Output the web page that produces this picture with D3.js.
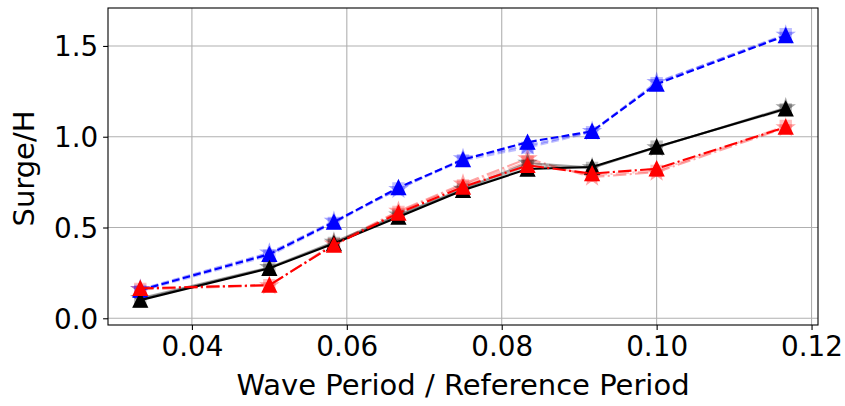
<!DOCTYPE html>
<html>
<head>
<meta charset="utf-8">
<script src="https://cdn.jsdelivr.net/npm/d3@7"></script>
<style>
  html, body { margin: 0; padding: 0; background: #fff; }
  svg { display: block; }
  text { font-family: "DejaVu Sans", sans-serif; fill: #000; }
</style>
</head>
<body>
<svg id="chart" width="845" height="406"></svg>
<script>
// Wave period normalised by the reference period
const periods = [4/120, 6/120, 7/120, 8/120, 9/120, 10/120, 11/120, 12/120, 14/120];

// Surge / H for each configuration
const blueMain  = [0.155, 0.353, 0.530, 0.720, 0.874, 0.970, 1.030, 1.290, 1.557];
const blueAlt1  = [0.160, 0.360, 0.535, 0.710, 0.880, 0.950, 1.030, 1.300, 1.560];
const blueAlt2  = [0.150, 0.345, 0.525, 0.715, 0.870, 0.940, 1.025, 1.295, 1.565];

const blackMain = [0.100, 0.275, 0.412, 0.558, 0.705, 0.822, 0.833, 0.943, 1.154];
const blackAlt1 = [0.110, 0.280, 0.420, 0.570, 0.712, 0.855, 0.830, 0.940, 1.160];
const blackAlt2 = [0.105, 0.278, 0.415, 0.565, 0.708, 0.840, 0.828, 0.945, 1.150];

const redMain   = [0.165, 0.183, 0.403, 0.580, 0.723, 0.842, 0.797, 0.824, 1.053];
const redAlt1   = [0.160, 0.180, 0.410, 0.590, 0.740, 0.880, 0.778, 0.805, 1.050];
const redAlt2   = [0.162, 0.182, 0.408, 0.585, 0.732, 0.862, 0.788, 0.812, 1.060];

const xTicks = [0.04, 0.06, 0.08, 0.10, 0.12];
const yTicks = [0.0, 0.5, 1.0, 1.5];

const xLabel = "Wave Period / Reference Period";
const yLabel = "Surge/H";

const svg = d3.select("#chart");
const plot = { left: 108, right: 818, top: 8, bottom: 325 };

const x = d3.scaleLinear().domain([0.0291667, 0.1208333]).range([plot.left, plot.right]);
const y = d3.scaleLinear().domain([-0.037, 1.709]).range([plot.bottom, plot.top]);

const FONT = 27.8;
const LABEL_FONT = 29;
const TICK = 4.9;

// grid
const grid = svg.append("g").attr("stroke", "#b0b0b0").attr("stroke-width", 1.1);
xTicks.forEach(t => grid.append("line")
  .attr("x1", x(t)).attr("x2", x(t)).attr("y1", plot.top).attr("y2", plot.bottom));
yTicks.forEach(t => grid.append("line")
  .attr("x1", plot.left).attr("x2", plot.right).attr("y1", y(t)).attr("y2", y(t)));

// axes with outward ticks
const xAxis = d3.axisBottom(x).tickValues(xTicks).tickFormat(d3.format(".2f"))
  .tickSize(TICK).tickPadding(4.9);
const yAxis = d3.axisLeft(y).tickValues(yTicks).tickFormat(d3.format(".1f"))
  .tickSize(TICK).tickPadding(4.9);

const gx = svg.append("g").attr("transform", `translate(0,${plot.bottom})`).call(xAxis);
const gy = svg.append("g").attr("transform", `translate(${plot.left},0)`).call(yAxis);
[gx, gy].forEach(g => {
  g.select(".domain").remove();
  g.selectAll(".tick line").attr("stroke", "#000").attr("stroke-width", 1.1);
  g.selectAll(".tick text").attr("font-size", FONT).attr("font-family", "DejaVu Sans").attr("fill", "#000");
});
gx.selectAll(".tick text").attr("dy", null).attr("y", TICK + 4.9 + 21.1);
gy.selectAll(".tick text").attr("dy", "0.36em");

// marker shapes (size = full marker extent in px)
function triangleUp(s) {
  const h = s / 2;
  return `M0,${-h}L${-h},${h}L${h},${h}Z`;
}
function star(s) {
  const R = s / 2, r = R * 0.381966;
  let p = "";
  for (let i = 0; i < 10; i++) {
    const rad = i % 2 === 0 ? R : r;
    const a = -Math.PI / 2 + i * Math.PI / 5;
    p += (i === 0 ? "M" : "L") + (rad * Math.cos(a)).toFixed(2) + "," + (rad * Math.sin(a)).toFixed(2);
  }
  return p + "Z";
}
function square(s) {
  const h = s / 2;
  return `M${-h},${-h}L${h},${-h}L${h},${h}L${-h},${h}Z`;
}

const LW = 2.1;
const dash = "7.7,3.3";
const dashDot = "13.3,3.3,2.1,3.3";

const series = [
  { values: redAlt2,   color: "#ff0000", dash: dashDot, marker: square,     size: 11, alpha: 0.25 },
  { values: redAlt1,   color: "#ff0000", dash: dashDot, marker: star,       size: 17, alpha: 0.35 },
  { values: blackAlt2, color: "#000000", dash: null,    marker: square,     size: 11, alpha: 0.25 },
  { values: blackAlt1, color: "#000000", dash: null,    marker: star,       size: 17, alpha: 0.35 },
  { values: blueAlt2,  color: "#0000ff", dash: dash,    marker: square,     size: 11, alpha: 0.25 },
  { values: blueAlt1,  color: "#0000ff", dash: dash,    marker: star,       size: 17, alpha: 0.35 },
  { values: blueMain,  color: "#0000ff", dash: dash,    marker: triangleUp, size: 14, alpha: 1 },
  { values: blackMain, color: "#000000", dash: null,    marker: triangleUp, size: 14, alpha: 1 },
  { values: redMain,   color: "#ff0000", dash: dashDot, marker: triangleUp, size: 14, alpha: 1 }
];

const line = d3.line().x(d => x(d[0])).y(d => y(d[1]));
svg.append("clipPath").attr("id", "plotclip")
  .append("rect").attr("x", plot.left).attr("y", plot.top)
  .attr("width", plot.right - plot.left).attr("height", plot.bottom - plot.top);

const data = svg.append("g").attr("clip-path", "url(#plotclip)");
series.forEach(s => {
  const pts = periods.map((p, i) => [p, s.values[i]]);
  const g = data.append("g").attr("opacity", s.alpha);
  g.append("path").datum(pts).attr("d", line)
    .attr("fill", "none").attr("stroke", s.color).attr("stroke-width", LW)
    .attr("stroke-dasharray", s.dash);
  g.selectAll("path.m").data(pts).join("path").attr("class", "m")
    .attr("transform", d => `translate(${x(d[0])},${y(d[1])})`)
    .attr("d", s.marker(s.size))
    .attr("fill", s.color).attr("stroke", s.color).attr("stroke-width", 1.4)
    .attr("stroke-linejoin", "miter");
});

// frame
svg.append("rect").attr("x", plot.left).attr("y", plot.top)
  .attr("width", plot.right - plot.left).attr("height", plot.bottom - plot.top)
  .attr("fill", "none").attr("stroke", "#000").attr("stroke-width", 1.1);

// axis labels
svg.append("text").attr("x", (plot.left + plot.right) / 2).attr("y", 395)
  .attr("text-anchor", "middle").attr("font-size", LABEL_FONT).text(xLabel);
svg.append("text")
  .attr("transform", `translate(34,${(plot.top + plot.bottom) / 2 + 2}) rotate(-90)`)
  .attr("text-anchor", "middle").attr("font-size", LABEL_FONT).text(yLabel);
</script>
</body>
</html>
